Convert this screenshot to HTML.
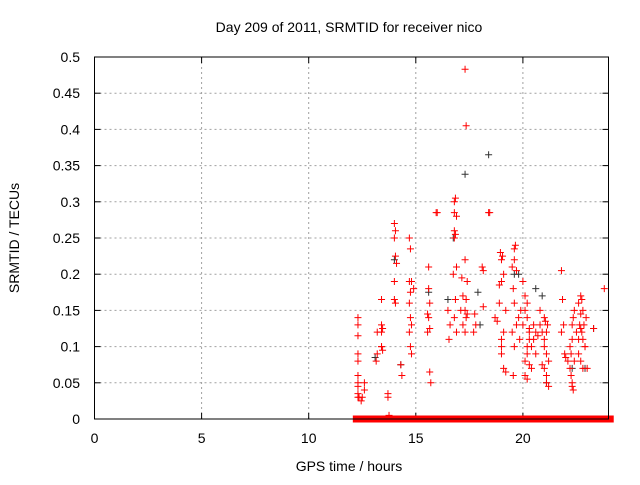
<!DOCTYPE html>
<html><head><meta charset="utf-8"><style>
body{margin:0;background:#fff}
svg text{font-family:"Liberation Sans",sans-serif;font-size:14px;fill:#000}
</style></head><body>
<svg id="chart" width="640" height="480" xmlns="http://www.w3.org/2000/svg">
<text x="349" y="32" text-anchor="middle">Day 209 of 2011, SRMTID for receiver nico</text>
<text x="349" y="471" text-anchor="middle">GPS time / hours</text>
<text transform="translate(19,238) rotate(-90)" text-anchor="middle">SRMTID / TECUs</text>
<g id="grid"></g>
<g id="ticks"></g>
<g id="zero"></g>
<g id="grayPts"></g>
<g id="redPts"></g>
<rect x="94.5" y="57" width="514" height="362" fill="none" stroke="#000" stroke-width="1"/>
</svg>
<script>
const xTicks=[0,5,10,15,20];
const yTicks=[0,0.05,0.1,0.15,0.2,0.25,0.3,0.35,0.4,0.45,0.5];
const yTickLabels=["0","0.05","0.1","0.15","0.2","0.25","0.3","0.35","0.4","0.45","0.5"];
const redX=[12.3,12.3,12.3,12.3,12.3,12.3,12.3,12.3,12.3,12.3,12.35,12.6,12.6,12.5,12.45,
13.2,13.2,13.15,13.4,13.4,13.45,13.4,13.4,13.45,13.4,13.7,13.7,13.75,
14.0,14.05,14.0,14.05,14.1,14.0,14.0,14.05,14.35,14.3,
14.7,14.75,14.7,14.8,14.75,14.7,14.75,14.8,14.7,14.75,14.8,14.9,
15.55,15.6,15.55,15.65,15.6,15.65,15.6,15.65,15.7,15.95,16.0,
16.5,16.55,16.6,16.8,16.85,16.8,16.9,16.8,16.85,16.8,16.9,16.75,16.85,16.8,16.9,
17.15,17.2,17.1,17.2,17.3,17.35,17.3,17.35,17.3,17.4,17.35,17.3,17.4,17.75,17.8,17.7,
18.1,18.15,18.15,18.4,18.45,18.7,18.8,18.9,18.9,19.0,19.0,19.05,18.95,19.1,19.2,19.1,19.0,19.0,19.1,19.2,19.0,
19.5,19.6,19.65,19.6,19.7,19.55,19.6,19.7,19.5,19.6,19.55,19.8,19.9,19.85,
20.0,20.1,20.2,20.3,20.4,20.1,20.2,20.3,20.0,20.1,20.2,20.3,20.5,20.6,20.2,20.3,20.4,20.1,20.2,20.5,20.6,20.7,20.8,20.9,21.0,21.1,21.2,21.0,21.1,20.9,21.0,21.1,21.2,21.0,21.1,21.05,21.15,20.8,
21.8,21.85,21.9,21.8,21.95,22.0,22.1,22.2,22.25,22.3,22.3,22.35,22.2,22.3,22.25,22.4,22.3,22.35,22.5,22.4,
22.6,22.7,22.8,22.65,22.7,22.75,22.8,22.9,22.6,22.7,22.8,22.95,22.6,22.75,22.85,22.7,22.9,23.0,23.3,23.8];
const redY=[0.14,0.13,0.115,0.09,0.08,0.06,0.05,0.045,0.035,0.03,0.03,0.05,0.04,0.03,0.025,
0.12,0.09,0.08,0.165,0.13,0.125,0.12,0.10,0.095,0.10,0.035,0.03,0.005,
0.27,0.26,0.25,0.225,0.215,0.19,0.165,0.16,0.06,0.075,
0.25,0.235,0.19,0.19,0.175,0.16,0.14,0.13,0.12,0.10,0.09,0.18,
0.145,0.14,0.12,0.125,0.18,0.16,0.21,0.065,0.05,0.285,0.285,
0.15,0.11,0.13,0.3,0.305,0.285,0.28,0.26,0.255,0.25,0.21,0.2,0.165,0.14,0.12,
0.195,0.17,0.15,0.13,0.483,0.405,0.22,0.165,0.15,0.145,0.14,0.12,0.19,0.145,0.13,0.12,
0.21,0.205,0.155,0.285,0.285,0.14,0.135,0.16,0.185,0.19,0.22,0.225,0.23,0.2,0.15,0.12,0.11,0.09,0.07,0.065,0.1,
0.21,0.235,0.24,0.22,0.205,0.18,0.16,0.13,0.12,0.1,0.06,0.14,0.15,0.11,
0.19,0.17,0.14,0.12,0.1,0.08,0.09,0.11,0.13,0.15,0.16,0.125,0.13,0.12,0.1,0.075,0.07,0.06,0.055,0.11,0.09,0.115,0.13,0.12,0.1,0.09,0.08,0.07,0.06,0.075,0.14,0.05,0.045,0.11,0.12,0.135,0.13,0.15,
0.205,0.165,0.13,0.12,0.09,0.085,0.08,0.07,0.06,0.05,0.045,0.04,0.1,0.11,0.09,0.08,0.13,0.14,0.12,0.15,
0.16,0.17,0.15,0.13,0.125,0.12,0.11,0.1,0.09,0.08,0.07,0.14,0.11,0.165,0.13,0.145,0.1,0.07,0.125,0.18];
const grayX=[17.3,18.4,16.75,16.5,15.6,14.0,14.3,13.1,19.8,20.6,21.1,22.3,23.3,22.9,19.6,18.0,17.9,20.9];
const grayY=[0.338,0.365,0.25,0.165,0.175,0.22,0.075,0.085,0.2,0.18,0.05,0.07,0.125,0.07,0.2,0.13,0.175,0.17];
const zeroStart=[12.2,15.2,15.7,17.9,19.2,20.1,20.4,21.3,21.6,22.4,22.5,22.7,22.85];
const zeroEnd=[15.1,15.6,17.7,19.1,20.0,20.3,21.2,21.5,22.3,22.45,22.6,22.8,24.1];

const X=v=>94.5+v*21.42, Y=v=>419-v*724;
const NS="http://www.w3.org/2000/svg";
function mk(t,a,p){const e=document.createElementNS(NS,t);for(const k in a)e.setAttribute(k,a[k]);p.appendChild(e);return e;}
const grid=document.getElementById('grid'),ticks=document.getElementById('ticks');
xTicks.forEach(t=>{const x=X(t);
 if(t>0){const l=mk('line',{x1:x,y1:57,x2:x,y2:419,stroke:'#a0a0a0','stroke-dasharray':'2,3'},grid);
 
 }
 mk('line',{x1:x,y1:419,x2:x,y2:413,stroke:'#000'},grid);mk('line',{x1:x,y1:57,x2:x,y2:63,stroke:'#000'},grid);
 const tx=mk('text',{x:x,y:443,'text-anchor':'middle'},ticks);tx.textContent=t;
 
 });
yTicks.forEach((t,i)=>{const y=Y(t);
 if(t>0&&t<0.5){const l=mk('line',{x1:94.5,y1:y,x2:608.5,y2:y,stroke:'#a0a0a0','stroke-dasharray':'2,3'},grid);
 
 }
 mk('line',{x1:94.5,y1:y,x2:100.5,y2:y,stroke:'#000'},grid);mk('line',{x1:608.5,y1:y,x2:602.5,y2:y,stroke:'#000'},grid);
 const tx=mk('text',{x:80,y:y+5,'text-anchor':'end'},ticks);tx.textContent=yTickLabels[i];
 
 });
function plus(g,x,y,c){const p=mk('path',{d:`M${x-3.5},${y}h7M${x},${y-3.5}v7`,stroke:c,'stroke-width':1,fill:'none'},g);return p;}
const gg=document.getElementById('grayPts');
grayX.forEach((v,i)=>{const p=plus(gg,X(v),Y(grayY[i]),'#333');
 
 });
const rg=document.getElementById('redPts');
redX.forEach((v,i)=>{const p=plus(rg,X(v),Y(redY[i]),'#f00');
 
 });
const zg=document.getElementById('zero');
zeroStart.forEach((s,i)=>{const r=mk('rect',{x:X(s)-3,y:415.5,width:X(zeroEnd[i])-X(s)+6,height:7,fill:'#f00'},zg);
 
 });
</script>
</body></html>
